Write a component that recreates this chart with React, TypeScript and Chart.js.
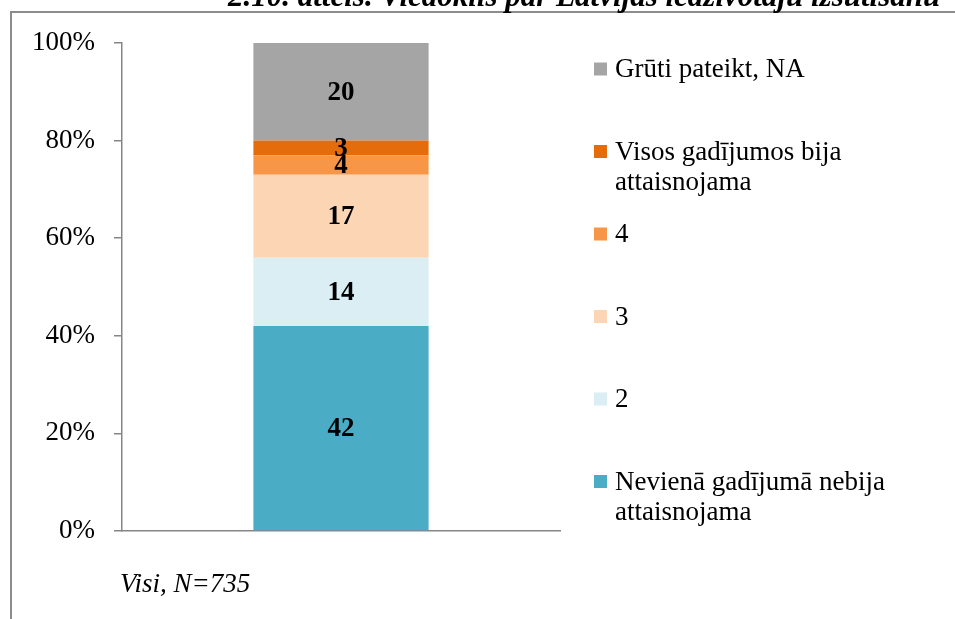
import React, { useEffect, useRef } from "react";
import { Chart, registerables } from "chart.js";

Chart.register(...registerables);

const titleText = "2.10. attēls. Viedoklis par Latvijas iedzīvotāju izsūtīšanu";
const categories = ["Visi, N=735"];
const seriesNames: string[][] = [
  ["Nevienā gadījumā nebija", "attaisnojama"],
  ["2"],
  ["3"],
  ["4"],
  ["Visos gadījumos bija", "attaisnojama"],
  ["Grūti pateikt, NA"],
];
const seriesValues: number[][] = [[42], [14], [17], [4], [3], [20]];
const seriesColors = ["#4BACC6", "#DAEEF3", "#FCD5B5", "#F79646", "#E46C0A", "#A5A5A5"];
const yTicks = [0, 20, 40, 60, 80, 100];

const SERIF = "'Liberation Serif', 'Times New Roman', serif";
const AXIS_COLOR = "#868686";

const decorPlugin = {
  id: "decor",
  beforeDraw(chart: any) {
    const ctx = chart.ctx;
    ctx.save();
    ctx.fillStyle = "#ffffff";
    ctx.fillRect(0, 0, chart.width, chart.height);
    // frame
    ctx.strokeStyle = "#8c8c8c";
    ctx.lineWidth = 2;
    ctx.beginPath();
    ctx.moveTo(11, chart.height + 2);
    ctx.lineTo(11, 12);
    ctx.lineTo(chart.width + 2, 12);
    ctx.stroke();
    // title (cropped at top)
    ctx.fillStyle = "#000";
    ctx.font = `italic bold 31px ${SERIF}`;
    ctx.textAlign = "left";
    ctx.textBaseline = "alphabetic";
    ctx.fillText(titleText, 228, 6);
    ctx.restore();
  },
  afterDatasetsDraw(chart: any) {
    const ctx = chart.ctx;
    ctx.save();
    // data labels
    ctx.fillStyle = "#000";
    ctx.font = `bold 27px ${SERIF}`;
    ctx.textAlign = "center";
    ctx.textBaseline = "middle";
    chart.data.datasets.forEach((ds: any, i: number) => {
      const meta = chart.getDatasetMeta(i);
      meta.data.forEach((el: any, j: number) => {
        const p = el.getProps(["x", "y", "base"], true);
        ctx.fillText(String(ds.data[j]), p.x, (p.y + p.base) / 2 + 1);
      });
    });
    // category label
    ctx.font = `italic 27px ${SERIF}`;
    ctx.textAlign = "left";
    ctx.fillText(String(chart.data.labels[0]), 120, 585);
    // legend
    const n = seriesNames.length;
    const startY = 69;
    const step = 82.5;
    ctx.font = `27px ${SERIF}`;
    for (let k = 0; k < n; k++) {
      const idx = n - 1 - k;
      const cy = startY + k * step;
      ctx.fillStyle = seriesColors[idx];
      ctx.fillRect(594, cy - 6.5, 13, 13);
      ctx.fillStyle = "#000";
      seriesNames[idx].forEach((line, li) => {
        ctx.fillText(line, 615, cy + 1 + li * 30.5);
      });
    }
    ctx.restore();
  },
};

export default function App() {
  const ref = useRef<HTMLCanvasElement | null>(null);
  useEffect(() => {
    if (!ref.current) return;
    const chart = new Chart(ref.current, {
      type: "bar",
      data: {
        labels: categories,
        datasets: seriesValues.map((vals, i) => ({
          label: seriesNames[i].join(" "),
          data: vals,
          backgroundColor: seriesColors[i],
          borderWidth: 0,
          barPercentage: 0.4,
          categoryPercentage: 1,
        })),
      },
      options: {
        animation: false,
        responsive: false,
        devicePixelRatio: 1,
        layout: { padding: { left: 0, top: 43, right: 395, bottom: 88 } },
        plugins: {
          legend: { display: false },
          tooltip: { enabled: false },
          title: { display: false },
        },
        scales: {
          x: {
            stacked: true,
            ticks: { display: false },
            grid: { display: false },
            border: { display: true, color: AXIS_COLOR, width: 1.5 },
            afterFit: (s: any) => {
              s.height = 0;
            },
          },
          y: {
            stacked: true,
            min: 0,
            max: 100,
            afterBuildTicks: (s: any) => {
              s.ticks = yTicks.map((v) => ({ value: v }));
            },
            ticks: {
              padding: 19,
              color: "#000",
              font: { family: SERIF, size: 27 },
              callback: (v: any) => `${v}%`,
            },
            grid: {
              drawOnChartArea: false,
              drawTicks: true,
              tickLength: 8,
              color: AXIS_COLOR,
              lineWidth: 1.5,
            },
            border: { display: true, color: AXIS_COLOR, width: 1.5 },
            afterFit: (s: any) => {
              s.width = 122;
            },
          },
        },
      },
      plugins: [decorPlugin],
    });
    return () => chart.destroy();
  }, []);
  return (
    <div style={{ position: "fixed", left: 0, top: 0, width: 955, height: 619, background: "#fff" }}>
      <canvas ref={ref} width={955} height={619} style={{ width: 955, height: 619, display: "block" }} />
    </div>
  );
}
